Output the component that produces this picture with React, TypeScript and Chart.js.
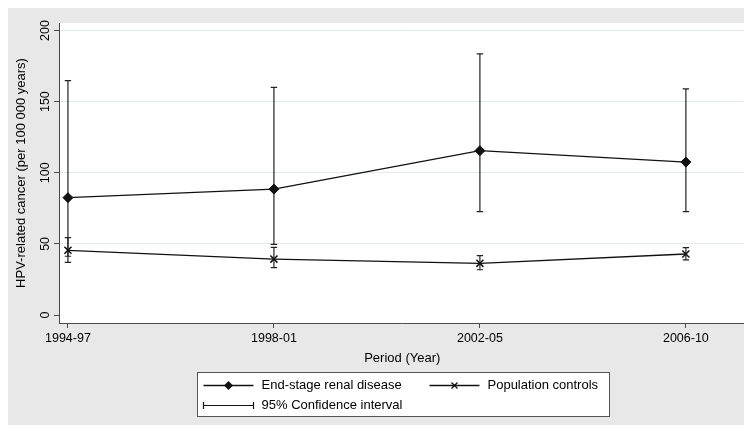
import React, { useEffect, useRef } from "react";
import { Chart, registerables } from "chart.js";

Chart.register(...registerables);

// ---- data ----
const periods = ["1994-97", "1998-01", "2002-05", "2006-10"];
const esrdRate = [82.5, 88.5, 115.5, 107.5];
const esrdLower = [41.3, 49.6, 72.7, 72.7];
const esrdUpper = [164.7, 160.0, 183.5, 159.0];
const popRate = [45.5, 39.3, 36.3, 42.9];
const popLower = [37.0, 33.3, 31.8, 38.8];
const popUpper = [54.4, 47.6, 41.7, 47.3];
const yTickValues = [0, 50, 100, 150, 200];
const legendLabels = ["End-stage renal disease", "Population controls", "95% Confidence interval"];
const xTitle = "Period (Year)";
const yTitle = "HPV-related cancer (per 100 000 years)";

const FONT = "'Liberation Sans', Arial, sans-serif";
const INK = "#111111";
const AXIS = "#4a4a4a";

const bgPlugin = {
  id: "stataBg",
  beforeDraw(chart: any) {
    const { ctx, width, height, chartArea: a } = chart;
    ctx.save();
    ctx.fillStyle = "#e8e8e8";
    ctx.fillRect(0, 0, width, height);
    ctx.fillStyle = "#ffffff";
    ctx.fillRect(a.left, a.top, a.right - a.left, a.bottom - a.top);
    ctx.restore();
  },
};

const ciPlugin = {
  id: "ciBars",
  beforeDatasetsDraw(chart: any) {
    const { ctx } = chart;
    const xs = chart.scales.x;
    const ys = chart.scales.y;
    const sets = [
      { lo: esrdLower, hi: esrdUpper },
      { lo: popLower, hi: popUpper },
    ];
    ctx.save();
    ctx.strokeStyle = "#222222";
    ctx.lineWidth = 1.2;
    sets.forEach((s) => {
      s.lo.forEach((lo, i) => {
        const x = xs.getPixelForValue(i);
        const y1 = ys.getPixelForValue(lo);
        const y2 = ys.getPixelForValue(s.hi[i]);
        ctx.beginPath();
        ctx.moveTo(x, y1);
        ctx.lineTo(x, y2);
        ctx.moveTo(x - 3.2, y1);
        ctx.lineTo(x + 3.2, y1);
        ctx.moveTo(x - 3.2, y2);
        ctx.lineTo(x + 3.2, y2);
        ctx.stroke();
      });
    });
    ctx.restore();
  },
};

const legendPlugin = {
  id: "stataLegend",
  afterDraw(chart: any) {
    const { ctx, chartArea: a } = chart;
    const bw = 412;
    const bh = 44;
    const cx = (a.left + a.right) / 2;
    const bx = Math.round(cx - bw / 2) + 1.5;
    const by = 364.5;
    ctx.save();
    ctx.fillStyle = "#ffffff";
    ctx.fillRect(bx, by, bw, bh);
    ctx.strokeStyle = "#555555";
    ctx.lineWidth = 1;
    ctx.strokeRect(bx, by, bw, bh);

    const row1 = by + 13;
    const row2 = by + 33;
    const c1 = bx + 6;
    const c2 = bx + 232;
    const symW = 50;

    ctx.strokeStyle = INK;
    ctx.fillStyle = INK;
    ctx.lineWidth = 1.3;
    // ESRD symbol
    ctx.beginPath();
    ctx.moveTo(c1, row1);
    ctx.lineTo(c1 + symW, row1);
    ctx.stroke();
    const dx = c1 + symW / 2;
    ctx.beginPath();
    ctx.moveTo(dx, row1 - 4.5);
    ctx.lineTo(dx + 4.5, row1);
    ctx.lineTo(dx, row1 + 4.5);
    ctx.lineTo(dx - 4.5, row1);
    ctx.closePath();
    ctx.fill();
    // population symbol
    ctx.beginPath();
    ctx.moveTo(c2, row1);
    ctx.lineTo(c2 + symW, row1);
    ctx.stroke();
    const px = c2 + symW / 2;
    ctx.beginPath();
    ctx.moveTo(px - 3, row1 - 3);
    ctx.lineTo(px + 3, row1 + 3);
    ctx.moveTo(px + 3, row1 - 3);
    ctx.lineTo(px - 3, row1 + 3);
    ctx.stroke();
    // CI symbol
    ctx.lineWidth = 1.2;
    ctx.beginPath();
    ctx.moveTo(c1, row2);
    ctx.lineTo(c1 + symW, row2);
    ctx.moveTo(c1, row2 - 3.5);
    ctx.lineTo(c1, row2 + 3.5);
    ctx.moveTo(c1 + symW, row2 - 3.5);
    ctx.lineTo(c1 + symW, row2 + 3.5);
    ctx.stroke();

    ctx.font = `13px ${FONT}`;
    ctx.textBaseline = "middle";
    ctx.textAlign = "left";
    ctx.fillStyle = "#000000";
    ctx.fillText(legendLabels[0], c1 + 58, row1);
    ctx.fillText(legendLabels[1], c2 + 58, row1);
    ctx.fillText(legendLabels[2], c1 + 58, row2);
    ctx.restore();
  },
};

export default function App() {
  const ref = useRef<HTMLCanvasElement | null>(null);

  useEffect(() => {
    if (!ref.current) return;
    const chart = new Chart(ref.current, {
      type: "line",
      data: {
        datasets: [
          {
            label: legendLabels[0],
            data: esrdRate.map((v, i) => ({ x: i, y: v })),
            borderColor: INK,
            backgroundColor: INK,
            borderWidth: 1.3,
            pointStyle: "rectRot",
            pointRadius: 5,
            pointBackgroundColor: INK,
            pointBorderColor: INK,
            pointBorderWidth: 1,
            tension: 0,
          },
          {
            label: legendLabels[1],
            data: popRate.map((v, i) => ({ x: i, y: v })),
            borderColor: INK,
            backgroundColor: INK,
            borderWidth: 1.3,
            pointStyle: "crossRot",
            pointRadius: 5,
            pointBorderColor: INK,
            pointBorderWidth: 1.5,
            tension: 0,
          },
        ],
      },
      options: {
        animation: false,
        responsive: false,
        devicePixelRatio: window.devicePixelRatio || 1,
        layout: { padding: { left: 0, right: 2, top: 15, bottom: 53 } },
        plugins: {
          legend: { display: false },
          tooltip: { enabled: false },
        },
        scales: {
          x: {
            type: "linear",
            min: -0.0434,
            max: 3.2894,
            afterBuildTicks: (scale: any) => {
              scale.ticks = periods.map((_, i) => ({ value: i }));
            },
            afterFit: (scale: any) => {
              scale.height = 49;
            },
            ticks: {
              autoSkip: false,
              maxRotation: 0,
              minRotation: 0,
              padding: 3,
              color: "#000000",
              font: { family: FONT, size: 12.5 },
              callback: (v: any) => periods[Number(v)] ?? "",
            },
            grid: {
              drawOnChartArea: false,
              drawTicks: true,
              tickLength: 5,
              tickColor: AXIS,
              tickWidth: 1,
            },
            border: { display: true, color: AXIS, width: 1 },
            title: {
              display: true,
              text: xTitle,
              color: "#000000",
              font: { family: FONT, size: 13 },
              padding: { top: 6, bottom: 6 },
            },
          },
          y: {
            type: "linear",
            min: -5.62,
            max: 205.27,
            afterBuildTicks: (scale: any) => {
              scale.ticks = yTickValues.map((v) => ({ value: v }));
            },
            afterFit: (scale: any) => {
              scale.width = 51;
            },
            ticks: {
              minRotation: 90,
              maxRotation: 90,
              crossAlign: "center",
              padding: -2,
              color: "#000000",
              font: { family: FONT, size: 12.5 },
            },
            grid: {
              drawOnChartArea: true,
              drawTicks: true,
              tickLength: 5,
              tickColor: AXIS,
              tickWidth: 1,
              lineWidth: 1,
              color: (ctx: any) => (ctx.tick && ctx.tick.value === 0 ? "rgba(0,0,0,0)" : "#e1ebee"),
            },
            border: { display: true, color: AXIS, width: 1 },
            title: {
              display: true,
              text: yTitle,
              color: "#000000",
              font: { family: FONT, size: 13 },
              padding: { top: 6, bottom: 6 },
            },
          },
        },
      },
      plugins: [bgPlugin, ciPlugin, legendPlugin],
    } as any);
    return () => chart.destroy();
  }, []);

  return (
    <div style={{ width: 744, height: 417 }}>
      <canvas ref={ref} width={744} height={417} style={{ display: "block", width: 744, height: 417 }} />
    </div>
  );
}
